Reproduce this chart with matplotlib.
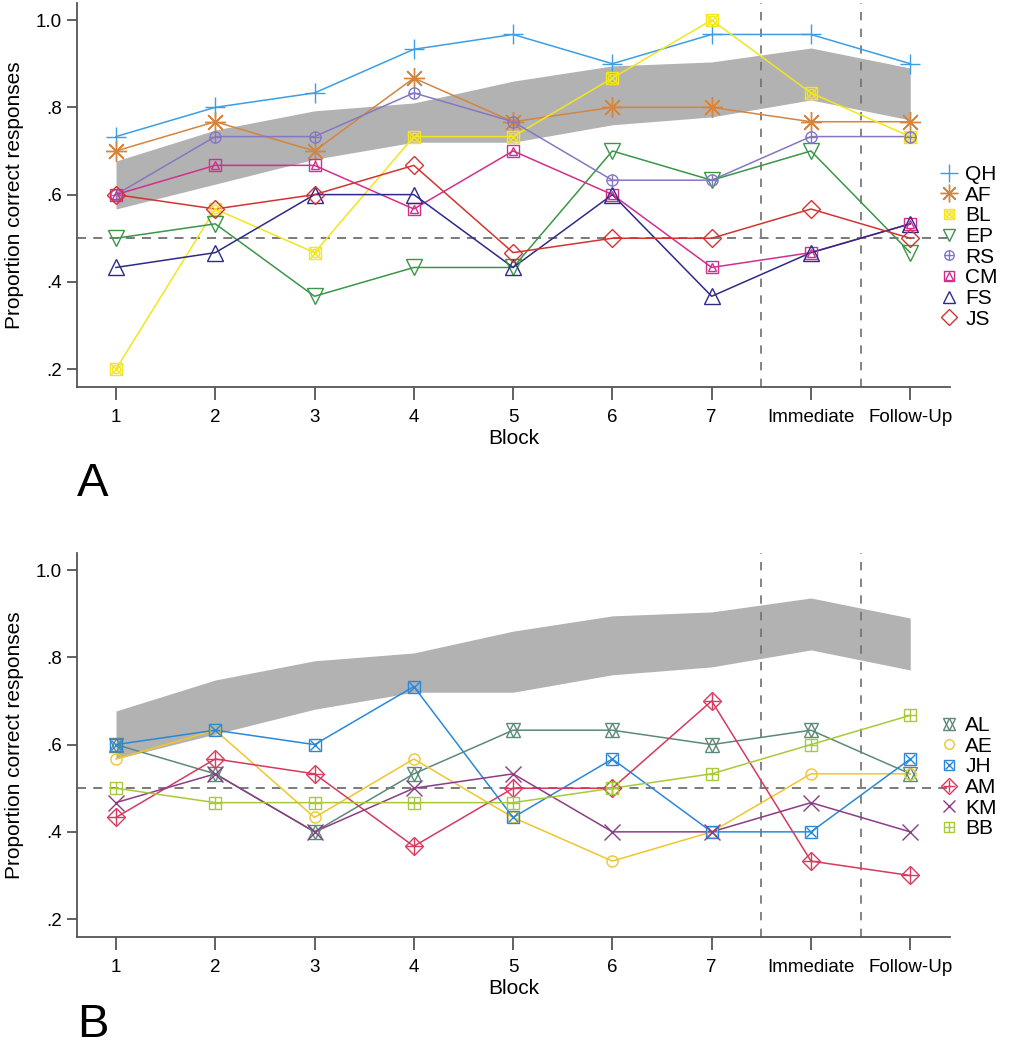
import matplotlib
matplotlib.use('Agg')
import matplotlib.pyplot as plt
from matplotlib.lines import Line2D
from matplotlib.legend_handler import HandlerTuple

plt.rcParams['font.family'] = ['Liberation Sans', 'DejaVu Sans']

# x positions: blocks 1-7, then Immediate and Follow-Up
blocks = [1, 2, 3, 4, 5, 6, 7, 8, 9]
block_labels = ['1', '2', '3', '4', '5', '6', '7', 'Immediate', 'Follow-Up']

# control group range (grey band)
band_lo = [0.567, 0.624, 0.681, 0.72, 0.72, 0.76, 0.778, 0.817, 0.771]
band_hi = [0.677, 0.748, 0.792, 0.81, 0.86, 0.895, 0.904, 0.936, 0.89]

# panel A participants
QH = [0.733, 0.8, 0.833, 0.933, 0.967, 0.9, 0.967, 0.967, 0.9]
AF = [0.7, 0.767, 0.7, 0.867, 0.767, 0.8, 0.8, 0.767, 0.767]
BL = [0.2, 0.567, 0.467, 0.733, 0.733, 0.867, 1.0, 0.833, 0.733]
EP = [0.5, 0.533, 0.367, 0.433, 0.433, 0.7, 0.633, 0.7, 0.467]
RS = [0.6, 0.733, 0.733, 0.833, 0.767, 0.633, 0.633, 0.733, 0.733]
CM = [0.6, 0.667, 0.667, 0.567, 0.7, 0.6, 0.433, 0.467, 0.533]
FS = [0.433, 0.467, 0.6, 0.6, 0.433, 0.6, 0.367, 0.467, 0.533]
JS = [0.6, 0.567, 0.6, 0.667, 0.467, 0.5, 0.5, 0.567, 0.5]

# panel B participants
AL = [0.6, 0.533, 0.4, 0.533, 0.633, 0.633, 0.6, 0.633, 0.533]
AE = [0.567, 0.633, 0.433, 0.567, 0.433, 0.333, 0.4, 0.533, 0.533]
JH = [0.6, 0.633, 0.6, 0.733, 0.433, 0.567, 0.4, 0.4, 0.567]
AM = [0.433, 0.567, 0.533, 0.367, 0.5, 0.5, 0.7, 0.333, 0.3]
KM = [0.467, 0.533, 0.4, 0.5, 0.533, 0.4, 0.4, 0.467, 0.4]
BB = [0.5, 0.467, 0.467, 0.467, 0.467, 0.5, 0.533, 0.6, 0.667]

# (name, values, colour, list of (marker, size) overlaid)
series_a = [
    ('QH', QH, '#3b9ee6', [('+', 15)]),
    ('AF', AF, '#d4853f', [((8, 2, 0), 15)]),
    ('BL', BL, '#f2e61c', [('s', 8), ('x', 8), ('o', 6)]),
    ('EP', EP, '#3a9648', [('v', 11)]),
    ('RS', RS, '#8677c4', [('o', 8), ('+', 8)]),
    ('CM', CM, '#d22f8c', [('s', 8), ('^', 6)]),
    ('FS', FS, '#2d2a88', [('^', 11)]),
    ('JS', JS, '#d23432', [('D', 9)]),
]
series_b = [
    ('AL', AL, '#5c8a78', [('^', 10), ('v', 10)]),
    ('AE', AE, '#f0c62c', [('o', 8)]),
    ('JH', JH, '#2c88d6', [('s', 8), ('x', 7)]),
    ('AM', AM, '#d63a5e', [('D', 9), ('+', 11)]),
    ('KM', KM, '#8c3c86', [('x', 11)]),
    ('BB', BB, '#a8ca38', [('s', 9), ('+', 9)]),
]

fig = plt.figure(figsize=(10.22, 10.5), dpi=100)
ax_a = fig.add_axes([0.0753, 0.6314, 0.8542, 0.3657])
ax_b = fig.add_axes([0.0753, 0.1076, 0.8542, 0.3657])

grey = '#707070'


def draw_panel(ax, series, legend_top):
    ax.fill_between(blocks, band_lo, band_hi, color='#b2b2b2', lw=0, zorder=1)
    ax.axhline(0.5, color=grey, lw=1.3, ls=(0, (5, 4)), zorder=2)
    for xv in [7.5, 8.5]:
        ax.axvline(xv, color=grey, lw=1.2, ls=(0, (5, 5)), zorder=2)

    handles = []
    for name, vals, col, marks in series:
        ax.plot(blocks, vals, color=col, lw=1.1, zorder=3)
        parts = []
        for m, ms in marks:
            ax.plot(blocks, vals, ls='none', marker=m, ms=ms, mfc='none',
                    mec=col, mew=1.0, zorder=4)
            parts.append(Line2D([], [], ls='none', marker=m, ms=ms * 0.85,
                                mfc='none', mec=col, mew=1.0))
        handles.append(tuple(parts))

    ax.legend(handles, [s[0] for s in series], loc='upper left',
              bbox_to_anchor=(0.918, legend_top), bbox_transform=fig.transFigure,
              frameon=False, fontsize=15, handlelength=1.0, handletextpad=0.3,
              labelspacing=0.08, borderpad=0, borderaxespad=0,
              handler_map={tuple: HandlerTuple(ndivide=1, pad=0)})

    ax.set_xlim(0.607, 9.4)
    ax.set_ylim(0.159, 1.039)
    ax.set_xticks(blocks)
    ax.set_xticklabels(block_labels)
    ax.set_yticks([0.2, 0.4, 0.6, 0.8, 1.0])
    ax.set_yticklabels(['.2', '.4', '.6', '.8', '1.0'])
    ax.tick_params(axis='both', colors='#555555', labelcolor='black',
                   labelsize=13.5, width=1.3)
    ax.tick_params(axis='x', length=9, pad=7)
    ax.tick_params(axis='y', length=7, pad=4)
    for side in ['top', 'right']:
        ax.spines[side].set_visible(False)
    for side in ['left', 'bottom']:
        ax.spines[side].set_color('#555555')
        ax.spines[side].set_linewidth(1.3)
    ax.set_xlabel('Block', fontsize=15, labelpad=2)
    ax.set_ylabel('Proportion correct responses', fontsize=15, labelpad=8)


draw_panel(ax_a, series_a, 0.843)
draw_panel(ax_b, series_b, 0.318)

fig.text(0.075, 0.539, 'A', fontsize=34, va='center', ha='left')
fig.text(0.075, 0.003, 'B', fontsize=34, va='bottom', ha='left')

fig.savefig('out.png', dpi=100)
